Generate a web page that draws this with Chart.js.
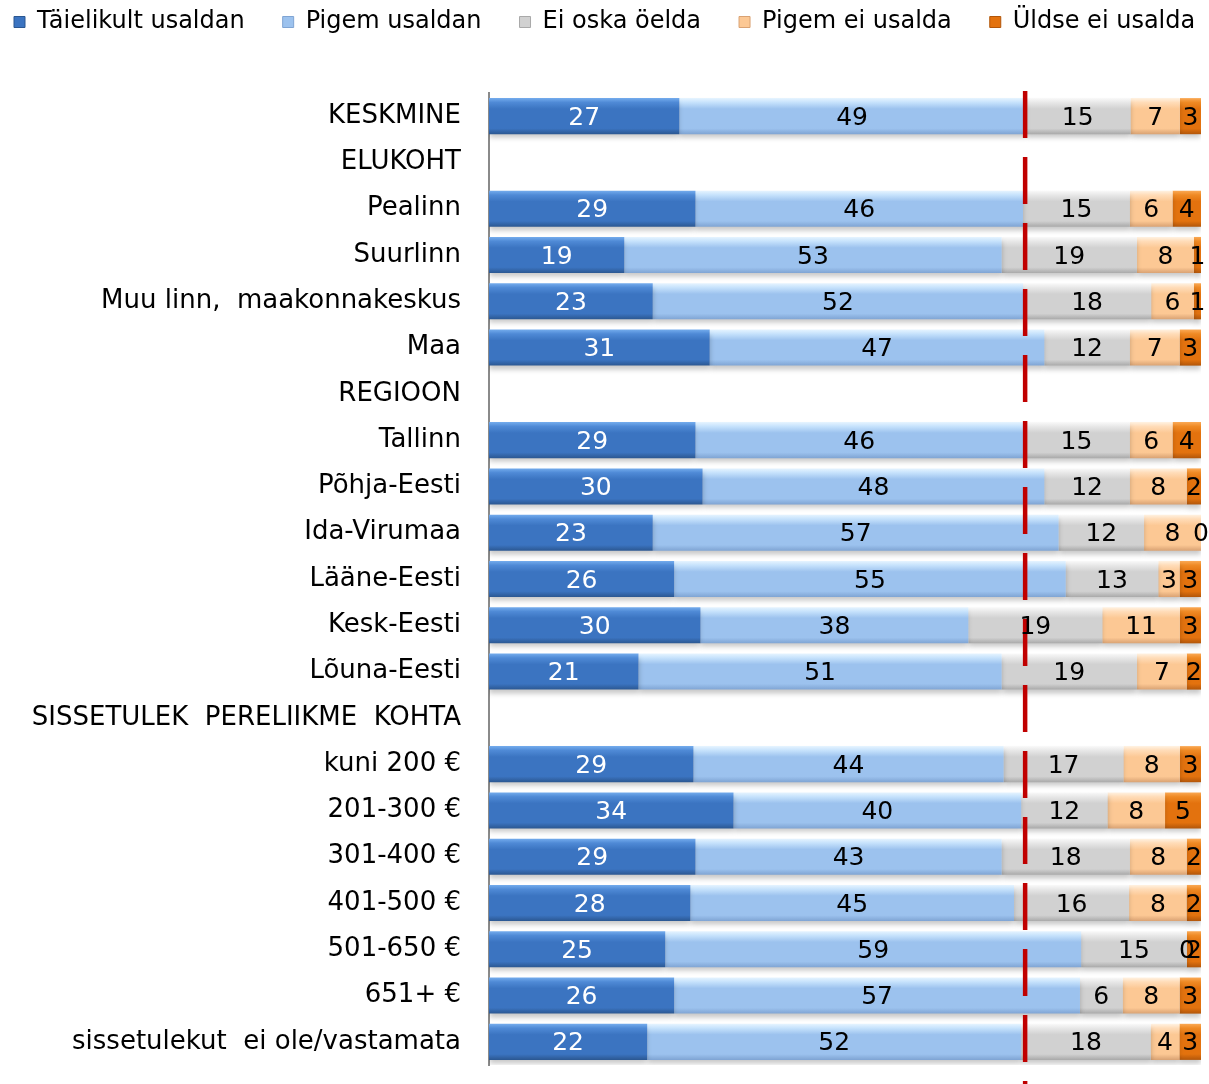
<!DOCTYPE html>
<html>
<head>
<meta charset="utf-8">
<script src="https://cdn.jsdelivr.net/npm/chart.js@4.4.1/dist/chart.umd.min.js"></script>
<style>
  html, body { margin: 0; padding: 0; background: #fff; }
  #wrap { width: 1209px; height: 1084px; }
</style>
</head>
<body>
<div id="wrap"><canvas id="myChart" width="1209" height="1084"></canvas></div>
<script>
// categories (null values = section header rows)
const categories = [
  'KESKMINE', 'ELUKOHT', 'Pealinn', 'Suurlinn', 'Muu linn,  maakonnakeskus', 'Maa',
  'REGIOON', 'Tallinn', 'Põhja-Eesti', 'Ida-Virumaa', 'Lääne-Eesti', 'Kesk-Eesti', 'Lõuna-Eesti',
  'SISSETULEK  PERELIIKME  KOHTA', 'kuni 200 €', '201-300 €', '301-400 €', '401-500 €',
  '501-650 €', '651+ €', 'sissetulekut  ei ole/vastamata'
];
const seriesNames = ['Täielikult usaldan', 'Pigem usaldan', 'Ei oska öelda', 'Pigem ei usalda', 'Üldse ei usalda'];

const taielikult = [27, null, 29, 19, 23, 31, null, 29, 30, 23, 26, 30, 21, null, 29, 34, 29, 28, 25, 26, 22];
const pigemUsaldan = [49, null, 46, 53, 52, 47, null, 46, 48, 57, 55, 38, 51, null, 44, 40, 43, 45, 59, 57, 52];
const eiOska = [15, null, 15, 19, 18, 12, null, 15, 12, 12, 13, 19, 19, null, 17, 12, 18, 16, 15, 6, 18];
const pigemEi = [7, null, 6, 8, 6, 7, null, 6, 8, 8, 3, 11, 7, null, 8, 8, 8, 8, 0, 8, 4];
const uldseEi = [3, null, 4, 1, 1, 3, null, 4, 2, 0, 3, 3, 2, null, 3, 5, 2, 2, 2, 3, 3];

const refLine = 75.3;

const allSeries = [taielikult, pigemUsaldan, eiOska, pigemEi, uldseEi];
const palette = [
  { top: '#74aced', hi: '#4f8ad6', mid: '#3b74c1', low: '#2b5791', text: '#ffffff' },
  { top: '#e6f4ff', hi: '#c6e2fc', mid: '#9cc2ee', low: '#7fa4d3', text: '#000000' },
  { top: '#f9f9f9', hi: '#e8e8e8', mid: '#d1d1d1', low: '#a9a9a9', text: '#000000' },
  { top: '#fff2e2', hi: '#ffdcb8', mid: '#fcc894', low: '#d9a273', text: '#000000' },
  { top: '#faa955', hi: '#ef8a25', mid: '#e3720e', low: '#b2560a', text: '#000000' }
];

const FONT = '"DejaVu Sans", Verdana, sans-serif';
const BAR_PCT = 0.78;

// 100% stacked: each row is scaled to its own total
const rowSums = categories.map((c, i) => allSeries.reduce((s, arr) => s + (arr[i] || 0), 0));

function barFill(p) {
  return function(ctx) {
    if (ctx.type !== 'data') return p.mid;
    const chart = ctx.chart;
    const y = chart.scales.y;
    if (!y || y.top === undefined) return p.mid;
    const cy = y.getPixelForValue(ctx.dataIndex);
    const h = Math.abs(y.getPixelForValue(1) - y.getPixelForValue(0)) * BAR_PCT;
    const g = chart.ctx.createLinearGradient(0, cy - h / 2, 0, cy + h / 2);
    g.addColorStop(0, p.top);
    g.addColorStop(0.12, p.hi);
    g.addColorStop(0.3, p.mid);
    g.addColorStop(0.84, p.mid);
    g.addColorStop(1, p.low);
    return g;
  };
}

const datasets = allSeries.map((arr, k) => ({
  label: seriesNames[k],
  data: arr.map((v, i) => v == null ? null : v / rowSums[i] * 100),
  raw: arr,
  backgroundColor: barFill(palette[k]),
  borderWidth: 0,
  barPercentage: BAR_PCT,
  categoryPercentage: 1
}));

// keep legend on one row and leave room between legend and plot
const layoutPlugin = {
  id: 'layoutTweak',
  beforeInit(chart) {
    const lg = chart.legend;
    const fit = lg.fit;
    const draw = lg.draw;
    lg.fit = function() {
      const mw = this.maxWidth;
      this.maxWidth = mw + 200;
      fit.call(this);
      this.maxWidth = mw;
      this.width = Math.min(this.width, mw);
      this.height += 49;
    };
    lg.draw = function() {
      const l = this.left, r = this.right;
      this.left = -24;
      this.right = 3000;
      draw.call(this);
      this.left = l;
      this.right = r;
    };
  }
};

const shadowPlugin = {
  id: 'barShadow',
  beforeDatasetsDraw(chart) {
    const c = chart.ctx;
    c.save();
    c.shadowColor = 'rgba(0,0,0,0.22)';
    c.shadowBlur = 5;
    c.shadowOffsetY = 4;
  },
  afterDatasetsDraw(chart) {
    chart.ctx.restore();
  }
};

const overlayPlugin = {
  id: 'overlay',
  afterDatasetsDraw(chart) {
    const c = chart.ctx;
    const xs = chart.scales.x;
    // red dashed reference line
    const lx = xs.getPixelForValue(refLine);
    c.save();
    c.strokeStyle = '#c00000';
    c.lineWidth = 4.5;
    c.setLineDash([47, 19]);
    c.beginPath();
    c.moveTo(lx, chart.chartArea.top - 2);
    c.lineTo(lx, chart.height);
    c.stroke();
    c.restore();
    // value labels
    c.save();
    c.font = '25px ' + FONT;
    c.textAlign = 'center';
    c.textBaseline = 'middle';
    chart.data.datasets.forEach((ds, k) => {
      const meta = chart.getDatasetMeta(k);
      c.fillStyle = palette[k].text;
      meta.data.forEach((el, i) => {
        const v = ds.raw[i];
        if (v == null) return;
        c.fillText(String(v), (el.x + el.base) / 2, el.y + 2);
      });
    });
    c.restore();
  }
};

new Chart(document.getElementById('myChart'), {
  type: 'bar',
  data: { labels: categories, datasets: datasets },
  options: {
    indexAxis: 'y',
    responsive: false,
    animation: false,
    layout: { padding: { top: -28, right: 8, bottom: 19, left: 0 } },
    plugins: {
      legend: {
        position: 'top',
        align: 'start',
        labels: {
          boxWidth: 11,
          boxHeight: 11,
          padding: 38,
          color: '#000',
          font: { family: FONT, size: 24 },
          generateLabels(chart) {
            return chart.data.datasets.map((ds, k) => ({
              text: ds.label,
              fillStyle: palette[k].mid,
              strokeStyle: palette[k].low,
              lineWidth: 1,
              datasetIndex: k
            }));
          }
        }
      },
      tooltip: { enabled: false }
    },
    scales: {
      x: {
        stacked: true,
        min: 0,
        max: 100,
        display: false
      },
      y: {
        stacked: true,
        grid: { display: false, drawTicks: false },
        border: { display: true, color: '#8a8a8a', width: 2 },
        afterFit(scale) {
          scale.width = 489;
          scale.paddingTop = 0;
          scale.paddingBottom = 0;
        },
        ticks: {
          padding: 28,
          color: '#000',
          autoSkip: false,
          font: { family: FONT, size: 26 }
        }
      }
    }
  },
  plugins: [layoutPlugin, shadowPlugin, overlayPlugin]
});
</script>
</body>
</html>
